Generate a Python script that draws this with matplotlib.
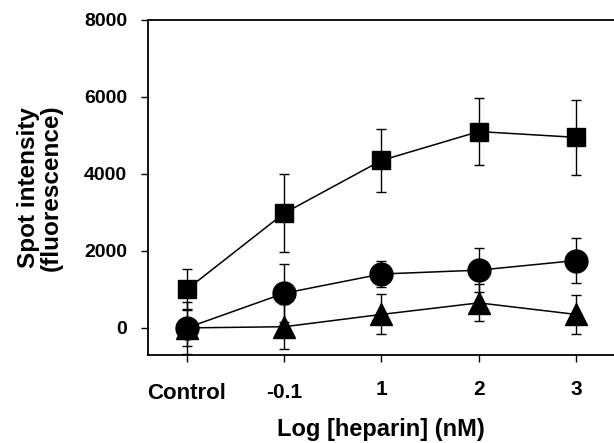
import matplotlib.pyplot as plt
from matplotlib.transforms import ScaledTranslation
import numpy as np

plt.rcParams["font.family"] = ["Liberation Sans", "DejaVu Sans"]
plt.rcParams["font.weight"] = "bold"

# x categories
tick_labels = ["Control", "-0.1", "1", "2", "3"]

# series values
square_vals = [1000, 2980, 4350, 5100, 4950]
square_err = [520, 1010, 815, 880, 980]
circle_vals = [0, 900, 1400, 1500, 1750]
circle_err = [680, 750, 330, 580, 580]
triangle_vals = [0, 30, 350, 650, 350]
triangle_err = [470, 580, 520, 480, 510]

x = np.arange(len(tick_labels))

fig = plt.figure(figsize=(6.14, 4.43), dpi=100, facecolor="white")
ax = fig.add_axes([0.241, 0.199, 0.759, 0.756])

series = [
    (triangle_vals, triangle_err, "^", 15.5),
    (circle_vals, circle_err, "o", 16.5),
    (square_vals, square_err, "s", 13.0),
]
for vals, err, mk, ms in series:
    ax.errorbar(x, vals, yerr=err, fmt="-", color="black", lw=1.1,
                elinewidth=1.0, capsize=3.6, capthick=1.0,
                marker=mk, markersize=ms, markerfacecolor="black",
                markeredgecolor="black", zorder=3)

ax.set_xlim(-0.4, 4.39)
ax.set_ylim(-700, 8000)
ax.set_yticks([0, 2000, 4000, 6000, 8000])
ax.set_xticks(x)
ax.set_xticklabels(tick_labels)

ax.spines["right"].set_visible(False)
for s in ["left", "bottom", "top"]:
    ax.spines[s].set_linewidth(1.3)

ax.tick_params(axis="both", direction="out", length=5, width=1.0)
ax.tick_params(axis="y", labelsize=14, pad=10)
ax.tick_params(axis="x", labelsize=15, pad=13)

# Control is set a bit larger, and Control / -0.1 sit slightly lower
xlabs = ax.get_xticklabels()
xlabs[0].set_fontsize(16)
for lab in xlabs[:2]:
    lab.set_transform(lab.get_transform() + ScaledTranslation(0, -2 / 72, fig.dpi_scale_trans))

ax.set_xlabel("Log [heparin] (nM)", fontsize=17, fontweight="bold", labelpad=10.5)
ax.set_ylabel("Spot intensity\n(fluorescence)", fontsize=17.5, fontweight="bold",
              labelpad=15, linespacing=1.0)

fig.savefig("out.png", dpi=100)
